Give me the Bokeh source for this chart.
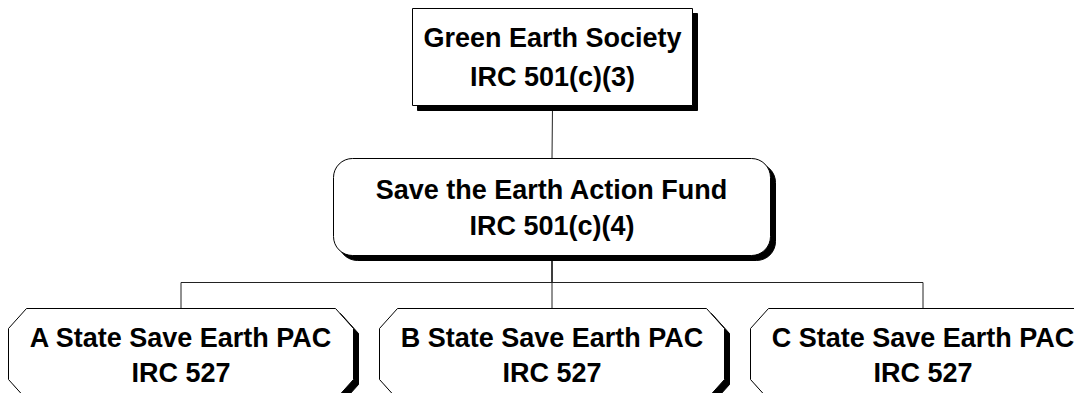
from bokeh.plotting import figure
from bokeh.models import Range1d, ColumnDataSource
from bokeh.embed import file_html
from bokeh.resources import INLINE
from bokeh.core.properties import value

# ---- data ----
org_names = ["Green Earth Society", "Save the Earth Action Fund",
             "A State Save Earth PAC", "B State Save Earth PAC", "C State Save Earth PAC"]
irc_codes = ["IRC 501(c)(3)", "IRC 501(c)(4)", "IRC 527", "IRC 527", "IRC 527"]
levels = [0, 1, 2, 2, 2]
parents = [None, 0, 1, 1, 1]
shapes = ["rect", "round", "octagon", "octagon", "octagon"]

# ---- layout (pixel coordinates of the picture) ----
W, H = 1074, 393
level_top = {0: 8, 1: 158, 2: 308}
level_bottom = {0: 105, 1: 255, 2: 399}
level_text = {0: (37, 76), 1: (189, 225), 2: (337, 372)}
box_lr = [(412, 692), (333, 770), (8, 353), (379, 724), (750, 1095)]
SH = 5           # shadow offset
CW, CH = 18, 20  # octagon chamfer
RADIUS = 19
BUS_Y = 282
FONT = "Liberation Sans"
FS = "27px"

p = figure(width=W, height=H, output_backend="svg", toolbar_location=None,
           x_range=Range1d(0, W), y_range=Range1d(H, 0),
           min_border=0, outline_line_color=None)
p.axis.visible = False
p.grid.visible = False
p.background_fill_color = "white"
p.border_fill_color = "white"

# connectors
xs, ys = [], []
for i, par in enumerate(parents):
    if par is None:
        continue
    L, R = box_lr[i]
    cx = (L + R) / 2
    pL, pR = box_lr[par]
    pcx = (pL + pR) / 2
    pb = level_bottom[levels[par]]
    ct = level_top[levels[i]]
    n_sib = sum(1 for q in parents if q == par)
    if n_sib == 1:
        xs.append([pcx, cx]); ys.append([pb, ct])
    else:
        xs.append([pcx, pcx]); ys.append([pb, BUS_Y])
        xs.append([pcx, cx]); ys.append([BUS_Y, BUS_Y])
        xs.append([cx, cx]); ys.append([BUS_Y, ct])
p.multi_line(xs, ys, line_color="#222222", line_width=1)

# boxes
for i in range(len(org_names)):
    L, R = box_lr[i]
    T = level_top[levels[i]]
    B = level_bottom[levels[i]]
    if shapes[i] == "rect":
        p.quad(left=L + SH, right=R + SH, top=T + SH, bottom=B + SH,
               fill_color="black", line_color="black")
        p.quad(left=L, right=R, top=T, bottom=B,
               fill_color="white", line_color="black", line_width=1)
    elif shapes[i] == "round":
        p.quad(left=L + SH, right=R + SH, top=T + SH, bottom=B + SH,
               fill_color="black", line_color="black", border_radius=RADIUS)
        p.quad(left=L, right=R, top=T, bottom=B,
               fill_color="white", line_color="black", line_width=1,
               border_radius=RADIUS)
    else:
        def octa(dx):
            xx = [L + CW, R - CW, R, R, R - CW, L + CW, L, L]
            yy = [T, T, T + CH, B - CH, B, B, B - CH, T + CH]
            return [x + dx for x in xx], [y + dx for y in yy]
        sx, sy = octa(SH)
        p.patch(sx, sy, fill_color="black", line_color="black")
        ox, oy = octa(0)
        p.patch(ox, oy, fill_color="white", line_color="black", line_width=1)

# labels
tx, ty, tt = [], [], []
for i in range(len(org_names)):
    L, R = box_lr[i]
    cx = (L + R) / 2
    y1, y2 = level_text[levels[i]]
    tx += [cx, cx]; ty += [y1, y2]; tt += [org_names[i], irc_codes[i]]
src = ColumnDataSource(dict(x=tx, y=ty, t=tt))
p.text(x="x", y="y", text="t", source=src, text_align="center",
       text_baseline="middle", text_font=value(FONT), text_font_size=FS,
       text_font_style="bold", text_color="black")

open("out.html", "w").write(file_html(p, INLINE))
